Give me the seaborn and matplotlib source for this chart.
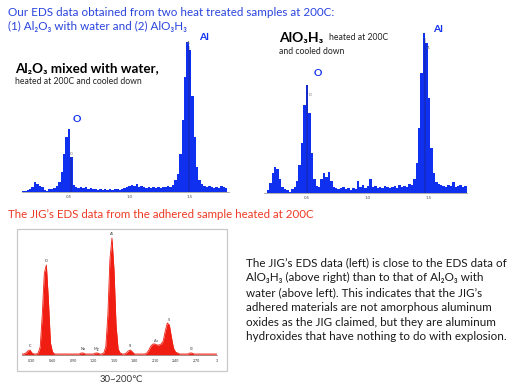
import numpy as np
import pandas as pd
import matplotlib
matplotlib.use("Agg")
import matplotlib.pyplot as plt
import seaborn as sns
from matplotlib.patches import Rectangle

W, H = 520, 386

# spectre de gauche : Al2O3 + eau (centres de canaux, pas de 0.02 keV)
left_start, left_step = 0.12, 0.02
left_counts = [1, 1, 2, 3, 5, 10, 8, 6, 5, 2,
               1, 3, 3, 4, 6, 10, 20, 38, 55, 63,
               35, 7, 5, 4, 5, 4, 5, 3, 4, 3,
               3, 2, 3, 2, 3, 2, 3, 2, 3, 3,
               2, 3, 4, 5, 6, 7, 6, 8, 5, 6,
               5, 4, 5, 4, 5, 4, 5, 4, 5, 5,
               6, 5, 7, 12, 18, 38, 72, 115, 150, 142,
               96, 55, 25, 12, 8, 6, 5, 6, 5, 4,
               5, 4, 6, 5, 4]

# spectre de droite : AlO3H3
right_start, right_step = 0.18, 0.02
right_counts = [3, 10, 20, 26, 24, 14, 6, 4, 3, 1,
                4, 6, 12, 28, 50, 88, 108, 80, 40, 14,
                7, 6, 14, 20, 16, 21, 12, 6, 5, 4,
                5, 6, 4, 5, 3, 5, 4, 12, 6, 8,
                5, 7, 14, 6, 7, 5, 6, 5, 7, 6,
                5, 6, 7, 5, 8, 6, 7, 6, 9, 8,
                14, 30, 65, 120, 160, 150, 95, 45, 20, 11,
                9, 8, 7, 6, 8, 7, 11, 6, 7, 8,
                6, 7]

# spectre du JIG (pas de 0.03 keV)
jig_start, jig_step = 0.15, 0.03
jig_counts = [1, 1, 2, 4, 5, 2, 1, 1, 2, 8,
              40, 82, 90, 55, 12, 3, 1, 1, 1, 1,
              1, 1, 1, 1, 1, 1, 1, 1, 1, 2,
              2, 1, 1, 1, 1, 1, 2, 2, 1, 1,
              2, 8, 40, 95, 117, 85, 30, 6, 2, 1,
              1, 2, 4, 5, 3, 1, 1, 1, 1, 1,
              1, 2, 5, 9, 11, 11, 10, 10, 11, 14,
              24, 32, 30, 18, 7, 3, 2, 1, 1, 1,
              1, 1, 2, 2, 1, 1, 1, 1, 1, 1,
              1, 1, 1, 1, 1, 1]

blue_ticks = [0.5, 1.0, 1.5]
blue_ticklabels = ["0.5", "1.0", "1.5"]
jig_ticks = [0.30, 0.60, 0.90, 1.20, 1.50, 1.80, 2.10, 2.40, 2.70, 3.0]
jig_ticklabels = ["0.30", "0.60", "0.90", "1.20", "1.50", "1.80", "2.10", "2.40", "2.70", "3"]
jig_elements = ["C", "O", "Na", "Mg", "Al", "Si", "Au", "S", "Cl"]
jig_element_kev = [0.27, 0.51, 1.04, 1.25, 1.47, 1.74, 2.12, 2.30, 2.63]

body_lines = [
    "The JIG’s EDS data (left) is close to the EDS data of",
    "AlO₃H₃ (above right) than to that of Al₂O₃ with",
    "water (above left). This indicates that the JIG’s",
    "adhered materials are not amorphous aluminum",
    "oxides as the JIG claimed, but they are aluminum",
    "hydroxides that have nothing to do with explosion.",
]

sns.set_style("white")
FAM = ["Lato", "DejaVu Sans"]
plt.rcParams["font.family"] = FAM

BLUE = "#1030f0"
TITLE_BLUE = "#2a44dd"
RED = "#f01e12"

fig = plt.figure(figsize=(W / 100, H / 100), dpi=100)


def fx(x):
    return x / W


def fy(y):
    return 1 - y / H


def spectre(l, t, r, b, xlim):
    ax = fig.add_axes([fx(l), fy(b), (r - l) / W, (b - t) / H])
    ax.set_facecolor("none")
    ax.set_zorder(2)
    ax.set_xlim(xlim)
    ax.set_ylim(0, b - t)
    ax.set_yticks([])
    sns.despine(ax=ax, left=True)
    ax.spines["bottom"].set_color("#8a8a8a")
    ax.spines["bottom"].set_linewidth(0.5)
    return ax


def df_spectre(start, step, counts):
    e = start + step * np.arange(len(counts))
    return pd.DataFrame({"keV": np.round(e, 3), "counts": counts})


def histo(ax, df, step, color):
    edges = np.append(df["keV"].values - step / 2, df["keV"].values[-1] + step / 2)
    sns.histplot(x=df["keV"], weights=df["counts"], bins=[float(v) for v in edges],
                 color=color, alpha=1, linewidth=0, ax=ax)
    ax.set_xlabel("")
    ax.set_ylabel("")


# --- spectre gauche
dl = df_spectre(left_start, left_step, left_counts)
axl = spectre(21.8, 30, 228.7, 192, (0.11, 1.82))
histo(axl, dl, left_step, BLUE)
axl.set_xlim(0.11, 1.82)
axl.set_ylim(0, 162)
axl.set_xticks(blue_ticks, blue_ticklabels)
axl.tick_params(axis="x", labelsize=3.2, length=1.5, width=0.4, pad=1, colors="#555555")
for e, lab in [(0.52, "O"), (1.49, "Al")]:
    hmax = np.interp(e, dl["keV"], dl["counts"])
    axl.vlines(e, 0, hmax, color="#202050", lw=0.35)
    axl.text(e, hmax + 1, lab, fontsize=2.6, color="#666666", ha="center", va="bottom")

# --- spectre droite
dr = df_spectre(right_start, right_step, right_counts)
axr = spectre(264.3, 25, 466.8, 193, (0.15, 1.81))
histo(axr, dr, right_step, BLUE)
axr.set_xlim(0.15, 1.81)
axr.set_ylim(0, 168)
axr.set_xticks(blue_ticks, blue_ticklabels)
axr.tick_params(axis="x", labelsize=3.2, length=1.5, width=0.4, pad=1, colors="#555555")
for e, lab in [(0.50, "O"), (1.47, "Al")]:
    hmax = np.interp(e, dr["keV"], dr["counts"])
    axr.vlines(e, 0, hmax, color="#202050", lw=0.35)
    axr.text(e + 0.015, hmax - 12, lab, fontsize=2.6, color="#666666", ha="left", va="bottom")

# --- spectre du JIG
cadre = Rectangle((fx(17), fy(371)), 210 / W, 142 / H, transform=fig.transFigure,
                  facecolor="none", edgecolor="#c8c8c8", lw=0.9, zorder=1)
fig.add_artist(cadre)
dj = df_spectre(jig_start, jig_step, jig_counts)
axj = spectre(21.75, 232, 216.5, 355, (0.15, 3.0))
sns.lineplot(data=dj, x="keV", y="counts", color=RED, lw=0.6, ax=axj)
axj.fill_between(dj["keV"], 0, dj["counts"], color=RED, lw=0)
axj.set_xlim(0.15, 3.0)
axj.set_ylim(0, 123)
axj.set_xlabel("")
axj.set_ylabel("")
axj.set_xticks(jig_ticks, jig_ticklabels)
axj.tick_params(axis="x", labelsize=2.6, length=1, width=0.4, pad=2.2, colors="#333333")
for lab, e in zip(jig_elements, jig_element_kev):
    h = np.interp(e, dj["keV"], dj["counts"])
    axj.text(e, h + 2, lab, fontsize=2.8, color="#333333", ha="center", va="bottom")

# --- textes
fig.text(fx(8), fy(13), "Our EDS data obtained from two heat treated samples at 200C:",
         color=TITLE_BLUE, fontsize=8.35, va="center", ha="left")
fig.text(fx(8), fy(26), "(1) Al₂O₃ with water and (2) AlO₃H₃",
         color=TITLE_BLUE, fontsize=8.35, va="center", ha="left")
fig.text(fx(8), fy(215), "The JIG’s EDS data from the adhered sample heated at 200C",
         color="#ee3a24", fontsize=8.3, va="center", ha="left")

fig.text(fx(15), fy(68), "Al₂O₃ mixed with water,", fontsize=9.6, fontweight="bold",
         color="black", va="center", ha="left")
fig.text(fx(15), fy(82), "heated at 200C and cooled down", fontsize=6.2,
         color="#222222", va="center", ha="left")
fig.text(fx(279), fy(38), "AlO₃H₃", fontsize=10, fontweight="bold",
         color="black", va="center", ha="left")
fig.text(fx(329), fy(38), "heated at 200C", fontsize=6.2,
         color="#222222", va="center", ha="left")
fig.text(fx(279), fy(51), "and cooled down", fontsize=6.2,
         color="#222222", va="center", ha="left")

for (x, y, lab) in [(204, 37, "Al"), (77, 120, "O"), (438, 30, "Al"), (318, 74, "O")]:
    fig.text(fx(x), fy(y), lab, fontsize=7.5, fontweight="bold", color=BLUE,
             va="center", ha="center")

for i, line in enumerate(body_lines):
    fig.text(fx(246), fy(263 + 14.8 * i), line, fontsize=8.4, color="#1a1a1a",
             va="center", ha="left")

fig.text(fx(121), fy(380), "30~200℃", fontsize=6.8, color="#333333",
         va="center", ha="center")

fig.savefig("out.png", dpi=100)
